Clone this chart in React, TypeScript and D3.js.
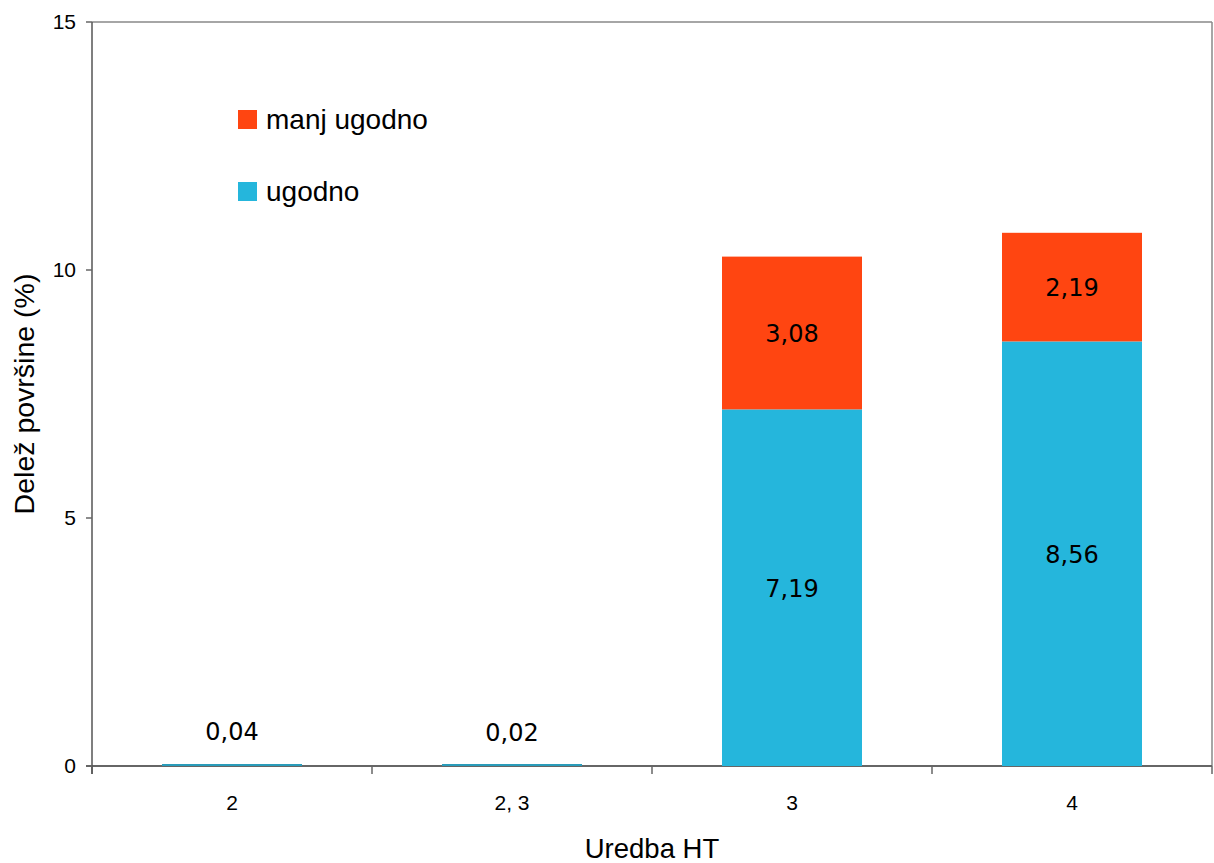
import React from "react";
import * as d3 from "d3";

const categories = ["2", "2, 3", "3", "4"];
const ugodno = [0.04, 0.02, 7.19, 8.56];
const manjUgodno = [0, 0, 3.08, 2.19];
const yTicks = [0, 5, 10, 15];
const seriesNames = ["manj ugodno", "ugodno"];
const xTitle = "Uredba HT";
const yTitle = "Delež površine (%)";

const COLORS = { ugodno: "#25B6DC", manj: "#FF4511" };
const W = 1214, H = 863;
const L = 92, R = 1212, T = 22, B = 766;

const fmt = (v: number) => v.toFixed(2).replace(".", ",");

export default function App() {
  const x = d3.scaleBand<string>().domain(categories).range([L, R]).paddingInner(0.5).paddingOuter(0.25);
  const y = d3.scaleLinear().domain([0, 15]).range([B, T]);
  const step = x.step();
  const bandEdges = categories.map((c) => (x(c) as number) - (step - x.bandwidth()) / 2);
  bandEdges.push(R);
  const axisFont = "'Liberation Sans', Arial, sans-serif";
  const labelFont = "'DejaVu Sans', Verdana, sans-serif";
  const LF = 24;

  return (
    <svg width={W} height={H} style={{ position: "absolute", left: 0, top: 0, background: "#fff" }}>
      {/* plot border top/right */}
      <line x1={L} x2={R} y1={T} y2={T} stroke="#888" strokeWidth={1.5} />
      <line x1={R} x2={R} y1={T} y2={B} stroke="#888" strokeWidth={1.5} />
      {/* x axis */}
      <line x1={L - 6} x2={R} y1={B} y2={B} stroke="#666" strokeWidth={2} />
      {bandEdges.map((e, i) => (
        <line key={i} x1={e} x2={e} y1={B} y2={B + 8} stroke="#666" strokeWidth={1.5} />
      ))}
      {/* bars */}
      {categories.map((c, i) => {
        const bx = x(c) as number;
        const bw = x.bandwidth();
        const y0 = y(0), y1 = y(ugodno[i]), y2 = y(ugodno[i] + manjUgodno[i]);
        const h = y0 - y1;
        return (
          <g key={c}>
            <rect x={bx} width={bw} y={h < 2 ? y0 - 2 : y1} height={Math.max(h, 2)} fill={h < 3 ? "#2A9CBA" : COLORS.ugodno} />
            {manjUgodno[i] > 0 && <rect x={bx} width={bw} y={y2} height={y1 - y2} fill={COLORS.manj} />}
          </g>
        );
      })}
      {/* data labels */}
      {categories.map((c, i) => {
        const cx = (x(c) as number) + x.bandwidth() / 2;
        const els = [];
        if (ugodno[i] < 0.5) {
          els.push(
            <text key="u" x={cx} y={y(ugodno[i]) - 24} textAnchor="middle" fontFamily={labelFont} fontSize={LF} fill="#000">
              {fmt(ugodno[i])}
            </text>
          );
        } else {
          els.push(
            <text key="u" x={cx} y={(y(0) + y(ugodno[i])) / 2 + 9} textAnchor="middle" fontFamily={labelFont} fontSize={LF} fill="#000">
              {fmt(ugodno[i])}
            </text>
          );
        }
        if (manjUgodno[i] > 0) {
          els.push(
            <text key="m" x={cx} y={(y(ugodno[i]) + y(ugodno[i] + manjUgodno[i])) / 2 + 9} textAnchor="middle" fontFamily={labelFont} fontSize={LF} fill="#000">
              {fmt(manjUgodno[i])}
            </text>
          );
        }
        return <g key={c}>{els}</g>;
      })}
      {/* y axis */}
      <line x1={L} x2={L} y1={T} y2={B + 8} stroke="#555" strokeWidth={1.5} />
      {yTicks.map((t) => (
        <g key={t}>
          <line x1={L - 6} x2={L} y1={y(t)} y2={y(t)} stroke="#666" strokeWidth={1.5} />
          <text x={76} y={y(t) + 7} textAnchor="end" fontFamily={axisFont} fontSize={21} fill="#000">
            {t}
          </text>
        </g>
      ))}
      {categories.map((c) => (
        <text key={c} x={(x(c) as number) + x.bandwidth() / 2} y={810} textAnchor="middle" fontFamily={axisFont} fontSize={21} fill="#000">
          {c}
        </text>
      ))}
      {/* titles */}
      <text x={(L + R) / 2} y={858} textAnchor="middle" fontFamily={axisFont} fontSize={27.5} fill="#000">
        {xTitle}
      </text>
      <text transform={`translate(34, ${(T + B) / 2}) rotate(-90)`} textAnchor="middle" fontFamily={axisFont} fontSize={28.5} fill="#000">
        {yTitle}
      </text>
      {/* legend */}
      {seriesNames.map((n, i) => (
        <g key={n} transform={`translate(238, ${110 + i * 72})`}>
          <rect x={0} y={0} width={19} height={19} fill={i === 0 ? COLORS.manj : COLORS.ugodno} />
          <text x={28} y={19} fontFamily={axisFont} fontSize={28} fill="#000">
            {n}
          </text>
        </g>
      ))}
    </svg>
  );
}
